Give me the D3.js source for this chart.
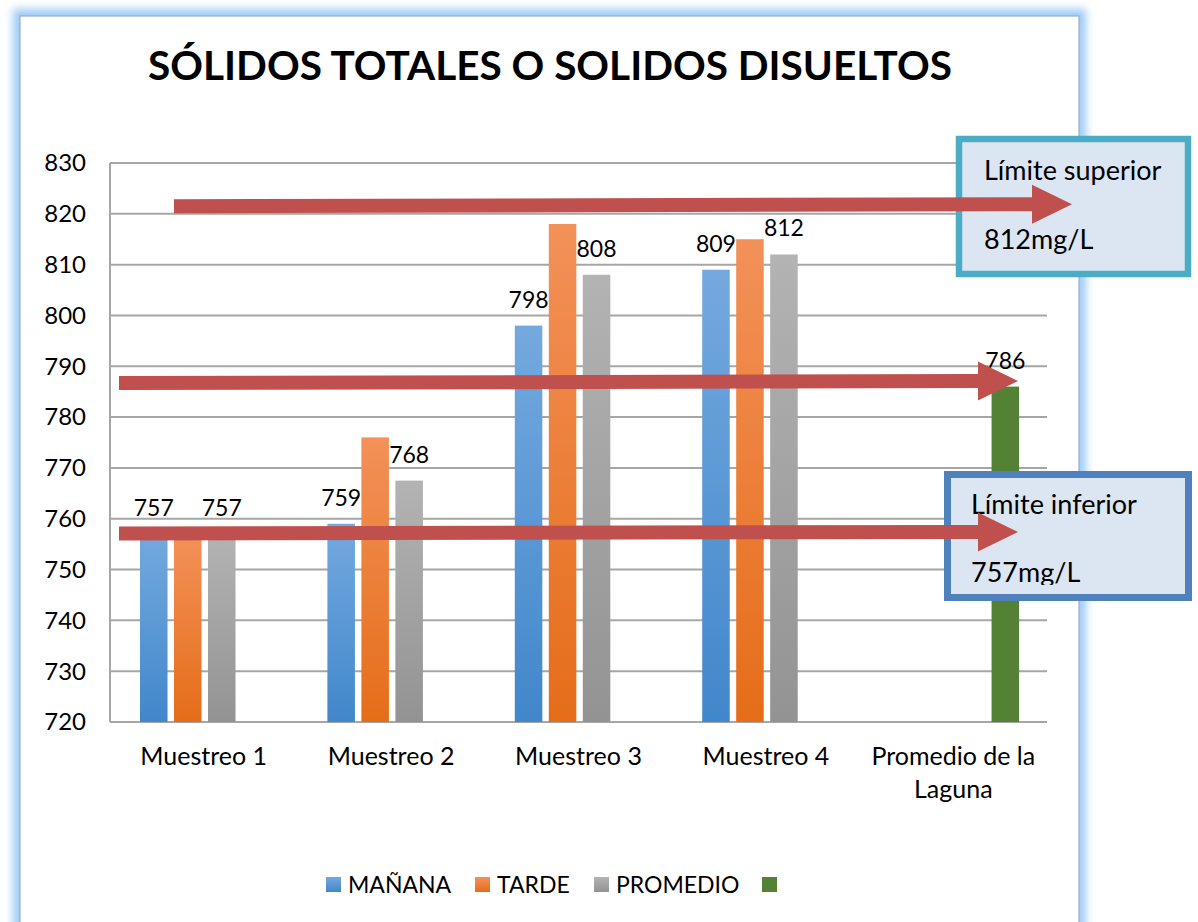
<!DOCTYPE html>
<html>
<head>
<meta charset="utf-8">
<script src="https://cdn.jsdelivr.net/npm/d3@7"></script>
<style>
  body { margin: 0; background: #fff; }
  svg { display: block; font-family: Lato, "Open Sans", sans-serif; }
</style>
</head>
<body>
<div id="chart"></div>
<script>
// data
const categories = ["Muestreo 1", "Muestreo 2", "Muestreo 3", "Muestreo 4", "Promedio de la Laguna"];
const seriesNames = ["MAÑANA", "TARDE", "PROMEDIO", ""];
const manana   = [757, 759, 798, 809, null];
const tarde    = [757, 776, 818, 815, null];
const promedio = [757, 767.5, 808, 812, null];
const laguna   = [null, null, null, null, 786];
const yTicks = [720, 730, 740, 750, 760, 770, 780, 790, 800, 810, 820, 830];

// annotation arrows (value at start / end of shaft) and limit boxes
const arrows = [
  { x0: 174, x1: 1072, v0: 821.5, v1: 821.9 },
  { x0: 119, x1: 1018, v0: 786.7, v1: 787.1 },
  { x0: 119, x1: 1018, v0: 757.1, v1: 757.4 }
];
const boxes = [
  { title: "Límite superior", value: "812mg/L", color: "#4BACC6" },
  { title: "Límite inferior", value: "757mg/L", color: "#4F81BD" }
];

const W = 1198, H = 922;
const svg = d3.select("#chart").append("svg").attr("width", W).attr("height", H);

const defs = svg.append("defs");
defs.append("filter").attr("id", "glow")
  .attr("x", "-5%").attr("y", "-5%").attr("width", "110%").attr("height", "110%")
  .append("feGaussianBlur").attr("stdDeviation", 4);

const grads = [
  ["g0", "#74A9DF", "#4187CB"],
  ["g1", "#F39159", "#E56D19"],
  ["g2", "#B3B3B3", "#939393"]
];
grads.forEach(([id, c1, c2]) => {
  const lg = defs.append("linearGradient").attr("id", id)
    .attr("x1", 0).attr("y1", 0).attr("x2", 0).attr("y2", 1);
  lg.append("stop").attr("offset", "0%").attr("stop-color", c1);
  lg.append("stop").attr("offset", "100%").attr("stop-color", c2);
});
const fills = ["url(#g0)", "url(#g1)", "url(#g2)", "#548235"];

// chart frame with soft blue glow
svg.append("rect").attr("x", 20).attr("y", 16).attr("width", 1059).attr("height", 960)
  .attr("fill", "none").attr("stroke", "#9ECBF6").attr("stroke-width", 14)
  .attr("filter", "url(#glow)");
svg.append("rect").attr("x", 20).attr("y", 16).attr("width", 1059).attr("height", 960)
  .attr("fill", "#fff").attr("stroke", "#94AECB").attr("stroke-width", 1.2);

// title
const title = svg.append("text")
  .attr("x", 550).attr("y", 80)
  .attr("text-anchor", "middle")
  .attr("font-weight", 700)
  .attr("font-size", 40)
  .attr("fill", "#000")
  .text("SÓLIDOS TOTALES O SOLIDOS DISUELTOS");
const tw = title.node().getComputedTextLength();
title.attr("font-size", 40 * 804 / tw);

// scales
const x0 = d3.scaleBand().domain(categories).range([110, 1047]);
const x1 = d3.scaleBand().domain(d3.range(4)).range([30, 159.5]).paddingInner(0.19);
const y = d3.scaleLinear().domain([720, 830]).range([722, 163]);

// gridlines
svg.append("g").selectAll("line")
  .data(yTicks)
  .join("line")
  .attr("x1", 110).attr("x2", 1047)
  .attr("y1", d => y(d)).attr("y2", d => y(d))
  .attr("stroke", "#A6A6A6").attr("stroke-width", 2);
svg.append("line")
  .attr("x1", 110).attr("x2", 110).attr("y1", y(830)).attr("y2", y(720))
  .attr("stroke", "#A6A6A6").attr("stroke-width", 2);

// y tick labels
svg.append("g").selectAll("text")
  .data(yTicks)
  .join("text")
  .attr("x", 86).attr("y", d => y(d))
  .attr("dy", "0.35em")
  .attr("text-anchor", "end")
  .attr("font-size", 24)
  .attr("fill", "#000")
  .text(d => d);

// category labels with simple wrapping
svg.append("g").selectAll("text")
  .data(categories)
  .join("text")
  .attr("x", d => x0(d) + x0.bandwidth() / 2)
  .attr("y", 765)
  .attr("text-anchor", "middle")
  .attr("font-size", 25)
  .attr("fill", "#000")
  .each(function (d) {
    const t = d3.select(this);
    const words = d.split(" ");
    let line = [], lines = [];
    const probe = t.append("tspan");
    words.forEach(w => {
      const test = line.concat(w).join(" ");
      probe.text(test);
      if (probe.node().getComputedTextLength() > 178 && line.length) {
        lines.push(line.join(" "));
        line = [w];
      } else line.push(w);
    });
    lines.push(line.join(" "));
    probe.remove();
    lines.forEach((l, i) => {
      t.append("tspan").attr("x", x0(d) + x0.bandwidth() / 2)
        .attr("dy", i ? 33 : 0).text(l);
    });
  });

// bars
const series = [manana, tarde, promedio, laguna];
const showLabel = [true, false, true, true];
const fmt = d3.format(".0f");
const barData = [];
series.forEach((vals, s) => vals.forEach((v, i) => {
  if (v != null) barData.push({ s, cat: categories[i], v });
}));

svg.append("g").selectAll("rect")
  .data(barData)
  .join("rect")
  .attr("x", d => x0(d.cat) + x1(d.s))
  .attr("width", x1.bandwidth())
  .attr("y", d => y(d.v))
  .attr("height", d => y(720) - y(d.v))
  .attr("fill", d => fills[d.s]);

svg.append("g").selectAll("text")
  .data(barData.filter(d => showLabel[d.s]))
  .join("text")
  .attr("x", d => x0(d.cat) + x1(d.s) + x1.bandwidth() / 2)
  .attr("y", d => y(d.v) - 18)
  .attr("text-anchor", "middle")
  .attr("font-size", 23)
  .attr("fill", "#000")
  .text(d => fmt(d.v));

// legend
const legendX = [326, 475, 594, 762];
const lg = svg.append("g").selectAll("g")
  .data(seriesNames)
  .join("g")
  .attr("transform", (d, i) => `translate(${legendX[i]},877)`);
lg.append("rect").attr("width", 15).attr("height", 15).attr("fill", (d, i) => fills[i]);
lg.append("text").attr("x", 22).attr("y", 15.5)
  .attr("font-size", 23).attr("fill", "#000").text(d => d);

// limit boxes
const boxPos = [
  { x: 959, y: 139, w: 229, h: 135, sw: 6.5, tx: 984, ty1: 180, ty2: 249, clip: 280 },
  { x: 947.5, y: 474.5, w: 241, h: 123, sw: 7, tx: 971, ty1: 514, ty2: 582, clip: 585 }
];
const arrowPath = a => {
  const ya = y(a.v0), yb = y(a.v1);
  const hb = a.x1 - 40, t = 7, hh = 19.5;
  const ym = ya + (yb - ya) * (hb - a.x0) / (a.x1 - a.x0);
  return `M${a.x0},${ya - t} L${hb},${ym - t} L${hb},${ym - hh} L${a.x1},${yb} ` +
    `L${hb},${ym + hh} L${hb},${ym + t} L${a.x0},${ya + t} Z`;
};

function drawBox(i) {
  const b = boxes[i], p = boxPos[i];
  const g = svg.append("g");
  defs.append("clipPath").attr("id", "clip" + i)
    .append("rect").attr("x", p.x).attr("y", p.y).attr("width", p.w).attr("height", p.clip - p.y);
  g.append("rect").attr("x", p.x).attr("y", p.y).attr("width", p.w).attr("height", p.h)
    .attr("fill", "#DCE6F2").attr("stroke", b.color).attr("stroke-width", p.sw);
  const tg = g.append("g").attr("clip-path", `url(#clip${i})`);
  tg.append("text").attr("x", p.tx).attr("y", p.ty1).attr("font-size", 27).attr("fill", "#000").text(b.title);
  tg.append("text").attr("x", p.tx).attr("y", p.ty2).attr("font-size", 27).attr("fill", "#000").text(b.value);
}

drawBox(0);
drawBox(1);

svg.append("g").selectAll("path")
  .data(arrows)
  .join("path")
  .attr("d", arrowPath)
  .attr("fill", "#C0504D");
</script>
</body>
</html>
